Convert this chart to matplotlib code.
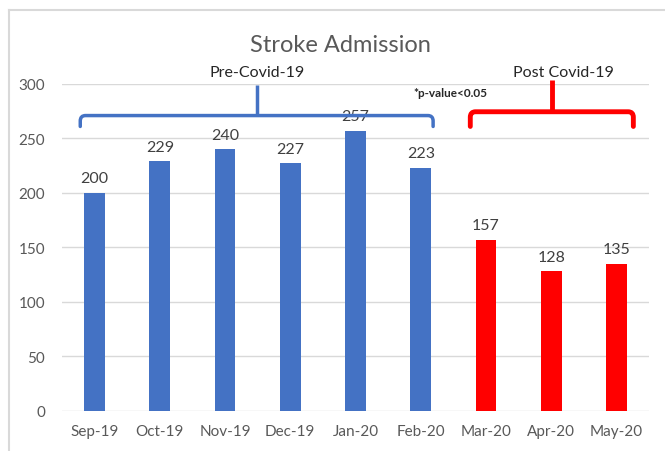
import matplotlib.pyplot as plt
import numpy as np
from matplotlib.path import Path
from matplotlib.patches import PathPatch
from matplotlib.lines import Line2D

months = ["Sep-19", "Oct-19", "Nov-19", "Dec-19", "Jan-20", "Feb-20", "Mar-20", "Apr-20", "May-20"]
admissions = [200, 229, 240, 227, 257, 223, 157, 128, 135]
pre_idx = [0, 1, 2, 3, 4, 5]
post_idx = [6, 7, 8]

blue = "#4472C4"
red = "#FF0000"
grey_txt = "#595959"

plt.rcParams["font.family"] = ["Lato", "DejaVu Sans"]

fig = plt.figure(figsize=(6.65, 4.52), dpi=100)
ax = fig.add_axes([62 / 665, 1 - 411.5 / 452, (649 - 62) / 665, (411.5 - 85) / 452])

x = np.arange(len(months))
colors = [blue if i in pre_idx else red for i in x]
bars = ax.bar(x, admissions, width=0.32, color=colors, zorder=3)
for xi, v in zip(x, admissions):
    ax.text(xi, v + 7, str(v), ha="center", va="bottom", fontsize=11.5, color="#404040")

ax.set_xlim(-0.5, len(months) - 0.5)
ax.set_ylim(0, 300)
ax.set_yticks(range(0, 301, 50))
ax.set_xticks(x)
ax.set_xticklabels(months)
ax.tick_params(axis="both", length=0, labelsize=11, labelcolor=grey_txt)
ax.tick_params(axis="x", pad=10)
ax.tick_params(axis="y", pad=12)
ax.yaxis.grid(True, color="#d9d9d9", lw=1, zorder=0)
for s in ax.spines.values():
    s.set_visible(False)


def brace(ax, x0, x1, xm, y_end, y_bar, y_tip, color, lw):
    # bracket with rounded corners and a tip in the middle
    rx = 0.08
    ry = 5
    verts = [(x0, y_end), (x0, y_bar - ry), (x0, y_bar), (x0 + rx, y_bar),
             (x1 - rx, y_bar), (x1, y_bar), (x1, y_bar - ry), (x1, y_end)]
    codes = [Path.MOVETO, Path.LINETO, Path.CURVE3, Path.CURVE3,
             Path.LINETO, Path.CURVE3, Path.CURVE3, Path.LINETO]
    p = PathPatch(Path(verts, codes), fill=False, edgecolor=color, lw=lw,
                  capstyle="round", joinstyle="round", clip_on=False, zorder=4)
    ax.add_patch(p)
    ax.add_line(Line2D([xm, xm], [y_bar, y_tip], color=color, lw=lw,
                       solid_capstyle="butt", clip_on=False, zorder=4))


brace(ax, pre_idx[0] - 0.22, pre_idx[-1] + 0.19, 2.49, 261, 271, 299, blue, 2.5)
brace(ax, post_idx[0] - 0.24, post_idx[-1] + 0.26, 7.02, 261, 274.5, 304, red, 3.5)

ax.text(2.49, 305, "Pre-Covid-19", ha="center", va="bottom", fontsize=11.5, color="#262626")
ax.text(7.19, 305, "Post Covid-19", ha="center", va="bottom", fontsize=11.5, color="#262626")
ax.text(5.45, 292.5, "*p-value<0.05", ha="center", va="center", fontsize=8.5,
        fontweight="bold", color="#262626")

fig.text(340 / 665, 1 - 45 / 452, "Stroke Admission", ha="center", va="center",
         fontsize=17, color=grey_txt)

# chart frame
fig.add_artist(Line2D([9 / 665, 9 / 665], [0, 1 - 11 / 452], transform=fig.transFigure,
                      color="#d9d9d9", lw=1.5))
fig.add_artist(Line2D([9 / 665, 1], [1 - 11 / 452, 1 - 11 / 452], transform=fig.transFigure,
                      color="#d9d9d9", lw=1.5))

fig.savefig("out.png", dpi=100)
